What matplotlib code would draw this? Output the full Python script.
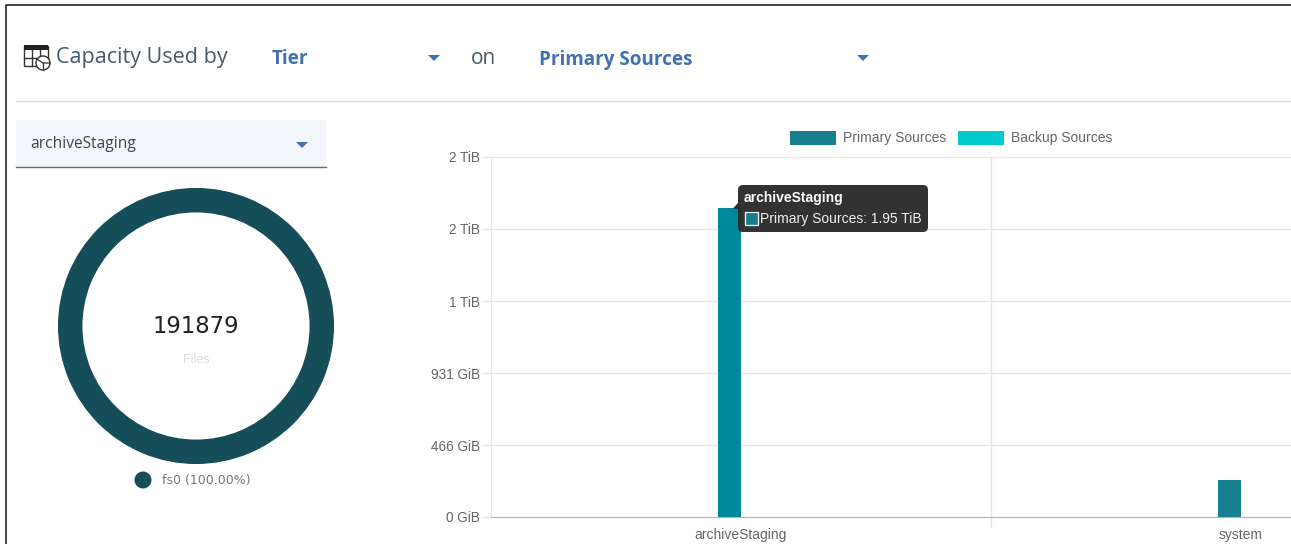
import matplotlib
matplotlib.use('Agg')
import matplotlib.pyplot as plt
from matplotlib.patches import Rectangle, FancyBboxPatch, Polygon, Circle

W, H = 1291, 544

categories = ['archiveStaging', 'system']
primary_gib = [1997, 239]
backup_gib = [0, 0]
tick_values = [0, 465.66, 931.32, 1396.98, 1862.65, 2328.31]
tick_labels = ['0 GiB', '466 GiB', '931 GiB', '1 TiB', '2 TiB', '2 TiB']
donut_values = [100]
donut_label = 'fs0 (100.00%)'
file_count = '191879'

PLEX = ['Open Sans', 'DejaVu Sans']
CHART = ['Liberation Sans', 'DejaVu Sans']
TEAL = '#17808f'
DARK = '#154e59'
BLUE = '#4271ae'


def px_axes(fig, left, top, right, bottom):
    return fig.add_axes([left / W, 1 - bottom / H, (right - left) / W, (bottom - top) / H])


fig = plt.figure(figsize=(W / 100, H / 100), dpi=100)

# full page layer, in pixels
bg = px_axes(fig, 0, 0, W, H)
bg.set_xlim(0, W)
bg.set_ylim(H, 0)
bg.axis('off')
bg.plot([6, 6, W], [H, 4.5, 4.5], color='#111111', lw=1.1)
bg.plot([16, W], [100.5, 100.5], color='#dddddd', lw=1)
bg.add_patch(Rectangle((16, 120), 310, 47, color='#f3f6fb', lw=0))
bg.plot([16, 326], [166.5, 166.5], color='#5b6b78', lw=1)


def caret(x, y):
    bg.add_patch(Polygon([(x - 6, y - 3), (x + 6, y - 3), (x, y + 3)], color=BLUE, lw=0))


caret(434, 58)
caret(863, 58)
caret(302, 145)

bg.text(56, 58, 'Capacity Used by', family=PLEX, fontsize=15.5, color='#4a5a68', va='center')
bg.text(272, 59, 'Tier', family=PLEX, fontsize=13.6, weight='bold', color=BLUE, va='center')
bg.text(471, 58, 'on', family=PLEX, fontsize=15, color='#4a5a68', va='center')
bg.text(539, 60, 'Primary Sources', family=PLEX, fontsize=13.6, weight='bold', color=BLUE, va='center')
bg.text(30, 144, 'archiveStaging', family=PLEX, fontsize=11.2, color='#3a4650', va='center')

# table + pie icon
bg.add_patch(Rectangle((24, 46), 24, 20, fc='white', ec='#333333', lw=1))
bg.add_patch(Rectangle((24, 45), 24, 5, color='#222222', lw=0))
bg.plot([32, 32], [50, 66], color='#333333', lw=1)
bg.plot([40, 40], [50, 66], color='#333333', lw=1)
bg.plot([24, 48], [57.5, 57.5], color='#333333', lw=1)
bg.add_patch(Circle((43, 63), 7, fc='white', ec='#333333', lw=1, zorder=3))
bg.plot([37, 43, 50], [59, 63, 63], color='#333333', lw=0.9, zorder=4)
bg.plot([43, 43], [63, 70], color='#333333', lw=0.9, zorder=4)

# donut
ax_d = px_axes(fig, 57, 187, 335, 465)
ax_d.pie(donut_values, colors=[DARK], startangle=90, radius=1,
         wedgeprops={'width': 0.19, 'edgecolor': 'white', 'linewidth': 1.4})
ax_d.set_xlim(-1, 1)
ax_d.set_ylim(-1, 1)
ax_d.text(0, -0.005, file_count, family=['DejaVu Sans'], fontsize=16.4, color='#222222',
          ha='center', va='center')
ax_d.text(0, -0.245, 'Files', family=CHART, fontsize=9, color='#dddddd', ha='center', va='center')
bg.add_patch(Circle((143, 480), 8.5, color=DARK, lw=0))
bg.text(162, 480.5, donut_label, family=['DejaVu Sans'], fontsize=9, color='#777777', va='center')

# bars
ax = px_axes(fig, 491, 157, 1291, 517)
ax.patch.set_alpha(0)
pos = list(range(len(categories)))
bar_w = 23 / 500
ax.bar([p - bar_w / 2 for p in pos], primary_gib, bar_w, color=TEAL, label='Primary Sources', zorder=3)
ax.bar([p + bar_w / 2 for p in pos], backup_gib, bar_w, color='#00ccd0', label='Backup Sources', zorder=3)
ax.patches[0].set_facecolor('#00899b')
ax.set_xlim(-0.5, 1.1)
ax.set_ylim(0, tick_values[-1])
ax.set_yticks(tick_values)
ax.set_yticklabels(tick_labels, family=CHART, fontsize=9.8, color='#666666')
ax.set_xticks(pos)
ax.set_xticklabels(categories, family=CHART, fontsize=10, color='#666666')
ax.tick_params(axis='y', length=7.2, color='#e6e6e6', width=1, pad=0.5)
ax.tick_params(axis='x', length=0, pad=8)
ax.grid(axis='y', color='#e6e6e6', lw=1, zorder=0)
ax.set_axisbelow(True)
for x in [-0.5, 0.5]:
    ax.axvline(x, color='#e6e6e6', lw=1, zorder=0)
ax.plot([0.5, 0.5], [0, -10 / 360 * tick_values[-1]], color='#e6e6e6', lw=1, clip_on=False)
for s in ['top', 'right', 'left']:
    ax.spines[s].set_visible(False)
ax.spines['bottom'].set_color('#b5b5b5')

handles, labels = ax.get_legend_handles_labels()
leg = ax.legend(handles, labels, ncol=2, frameon=False, loc='center', bbox_to_anchor=(460 / 800, 1 + 19 / 360),
                prop={'family': CHART, 'size': 10}, labelcolor='#666666', handlelength=3.3, handleheight=1.2,
                handletextpad=0.5, columnspacing=0.85, borderaxespad=0, borderpad=0)
leg.legend_handles[0].set_facecolor(TEAL)

# tooltip
top = px_axes(fig, 0, 0, W, H)
top.set_xlim(0, W)
top.set_ylim(H, 0)
top.axis('off')
top.add_patch(FancyBboxPatch((742, 189), 182, 39, boxstyle='round,pad=4,rounding_size=5', fc='#2b2b2b', ec='none', alpha=0.97))
top.add_patch(Polygon([(738, 209), (733, 208.5), (738, 203)], color='#2b2b2b', lw=0))
top.text(744, 198, categories[0], family=CHART, fontsize=10, weight='bold', color='white', va='center')
top.add_patch(Rectangle((745, 212), 13, 13, fc=TEAL, ec='white', lw=0.9))
top.text(760, 219, 'Primary Sources: 1.95 TiB', family=CHART, fontsize=10, color='#eeeeee', va='center')

fig.savefig('out.png', dpi=100)
